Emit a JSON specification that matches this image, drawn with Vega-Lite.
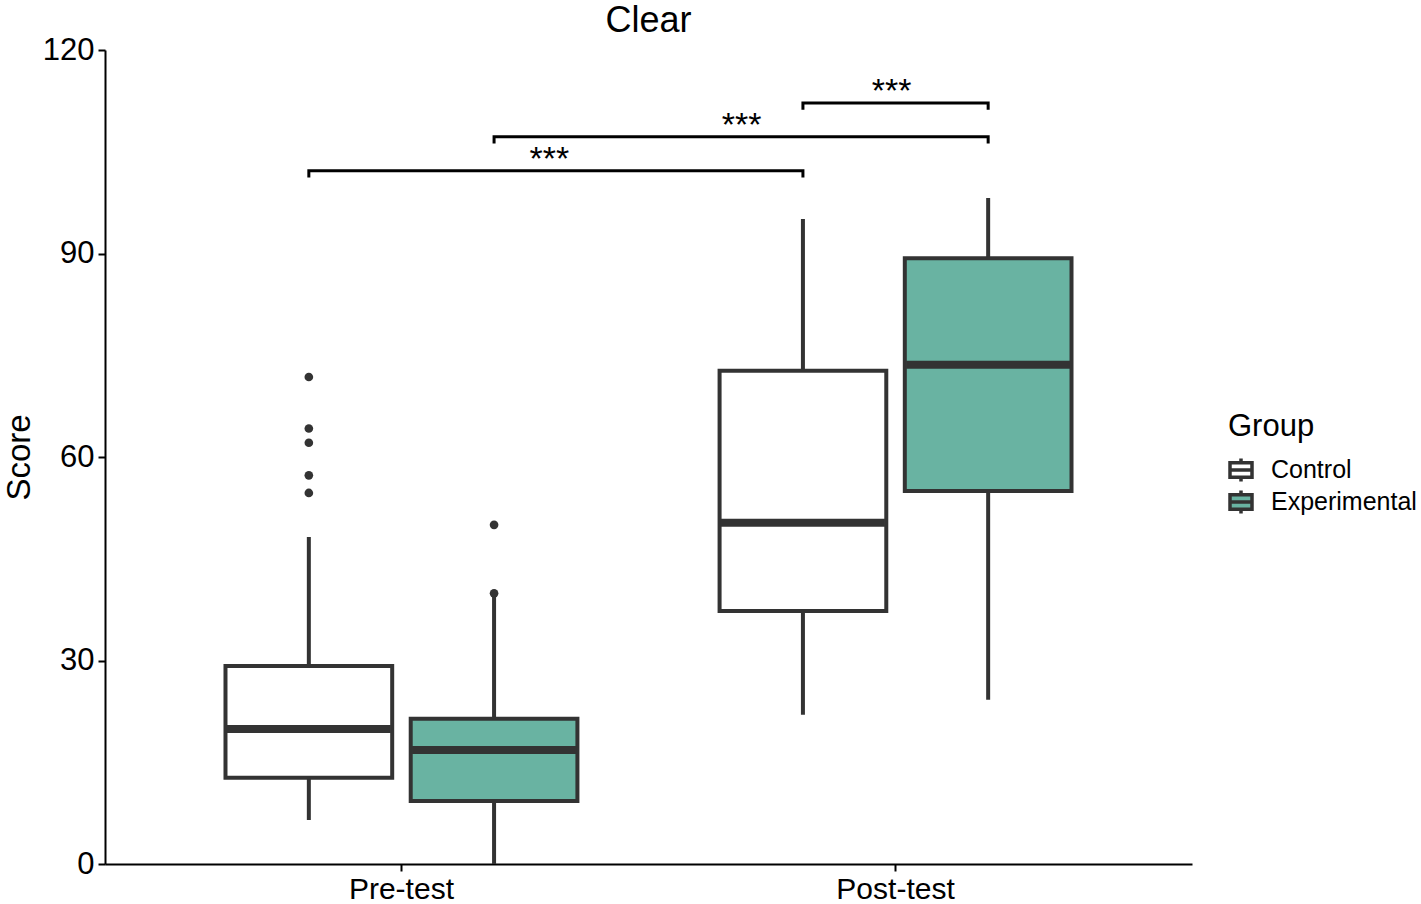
{
  "$schema": "https://vega.github.io/schema/vega-lite/v6.json",
  "width": 1087,
  "height": 814,
  "autosize": {"type": "none"},
  "padding": {"left": 105, "top": 50, "right": 229, "bottom": 40},
  "background": "white",
  "title": {"text": "Clear", "fontSize": 36, "font": "Liberation Sans", "fontWeight": "normal", "color": "#000000", "anchor": "middle", "offset": -6},
  "config": {
    "font": "Liberation Sans",
    "view": {"stroke": null},
    "axis": {"grid": false, "domainColor": "#000000", "domainWidth": 2, "tickColor": "#000000", "tickWidth": 2, "tickSize": 7, "labelColor": "#000000", "labelFont": "Liberation Sans", "titleFont": "Liberation Sans", "titleColor": "#000000", "titleFontWeight": "normal"}
  },
  "datasets": {
    "boxes": [
      {"time": "Pre-test", "group": "Control", "lower": 6.5, "q1": 12.7, "median": 19.9, "q3": 29.2, "upper": 48.2},
      {"time": "Pre-test", "group": "Experimental", "lower": 0, "q1": 9.3, "median": 16.8, "q3": 21.4, "upper": 39.9},
      {"time": "Post-test", "group": "Control", "lower": 22.0, "q1": 37.3, "median": 50.3, "q3": 72.7, "upper": 95.1},
      {"time": "Post-test", "group": "Experimental", "lower": 24.2, "q1": 55.0, "median": 73.6, "q3": 89.3, "upper": 98.2}
    ],
    "outliers": [
      {"time": "Pre-test", "group": "Control", "score": 71.8},
      {"time": "Pre-test", "group": "Control", "score": 64.2},
      {"time": "Pre-test", "group": "Control", "score": 62.1},
      {"time": "Pre-test", "group": "Control", "score": 57.3},
      {"time": "Pre-test", "group": "Control", "score": 54.7},
      {"time": "Pre-test", "group": "Experimental", "score": 50.0},
      {"time": "Pre-test", "group": "Experimental", "score": 39.9}
    ],
    "brackets": [
      {"bracket": "b1", "ord": 1, "time": "Pre-test", "group": "Control", "y": 101.2},
      {"bracket": "b1", "ord": 2, "time": "Pre-test", "group": "Control", "y": 102.2},
      {"bracket": "b1", "ord": 3, "time": "Post-test", "group": "Control", "y": 102.2},
      {"bracket": "b1", "ord": 4, "time": "Post-test", "group": "Control", "y": 101.2},
      {"bracket": "b2", "ord": 1, "time": "Pre-test", "group": "Experimental", "y": 106.2},
      {"bracket": "b2", "ord": 2, "time": "Pre-test", "group": "Experimental", "y": 107.2},
      {"bracket": "b2", "ord": 3, "time": "Post-test", "group": "Experimental", "y": 107.2},
      {"bracket": "b2", "ord": 4, "time": "Post-test", "group": "Experimental", "y": 106.2},
      {"bracket": "b3", "ord": 1, "time": "Post-test", "group": "Control", "y": 111.2},
      {"bracket": "b3", "ord": 2, "time": "Post-test", "group": "Control", "y": 112.2},
      {"bracket": "b3", "ord": 3, "time": "Post-test", "group": "Experimental", "y": 112.2},
      {"bracket": "b3", "ord": 4, "time": "Post-test", "group": "Experimental", "y": 111.2}
    ]
  },
  "encoding": {
    "x": {"field": "time", "type": "nominal", "sort": ["Pre-test", "Post-test"],
      "scale": {"domain": ["Pre-test", "Post-test"], "paddingInner": 0.2, "paddingOuter": 0.2},
      "axis": {"title": null, "labelAngle": 0, "labelFontSize": 30, "labelPadding": 3}}
  },
  "layer": [
    {
      "data": {"name": "boxes"},
      "mark": {"type": "rule", "stroke": "#333333", "strokeWidth": 4},
      "encoding": {
        "xOffset": {"field": "group", "type": "nominal", "scale": {"domain": ["Control", "Experimental"], "paddingInner": 0.1, "paddingOuter": 0.117}},
        "y": {"field": "lower", "type": "quantitative", "scale": {"domain": [0, 120], "nice": false, "zero": true},
          "axis": {"title": "Score", "titleFontSize": 33, "values": [0, 30, 60, 90, 120], "labelFontSize": 31, "labelPadding": 4, "titlePadding": 6}},
        "y2": {"field": "upper"}
      }
    },
    {
      "data": {"name": "boxes"},
      "mark": {"type": "bar", "stroke": "#333333", "strokeWidth": 4},
      "encoding": {
        "xOffset": {"field": "group", "type": "nominal"},
        "y": {"field": "q1", "type": "quantitative"},
        "y2": {"field": "q3"},
        "fill": {"field": "group", "type": "nominal",
          "scale": {"domain": ["Control", "Experimental"], "range": ["#ffffff", "#69b3a2"]},
          "legend": {"title": "Group", "orient": "none", "legendX": 1123, "legendY": 362,
            "titleFontSize": 31, "titleFont": "Liberation Sans", "titleFontWeight": "normal", "titleColor": "#000000", "titlePadding": 14,
            "labelFontSize": 25, "labelFont": "Liberation Sans", "labelColor": "#000000", "labelOffset": 17,
            "symbolType": "M-1,-0.65H1V0.65H-1Z M-1,0H1 M0,-0.65V-1.05 M0,0.65V1.05",
            "symbolSize": 484, "symbolStrokeColor": "#333333", "symbolStrokeWidth": 3.5, "rowPadding": -18}}
      }
    },
    {
      "data": {"name": "boxes"},
      "mark": {"type": "tick", "color": "#333333", "thickness": 8, "size": 164, "opacity": 1},
      "encoding": {
        "xOffset": {"field": "group", "type": "nominal"},
        "y": {"field": "median", "type": "quantitative"}
      }
    },
    {
      "data": {"name": "outliers"},
      "mark": {"type": "point", "filled": true, "color": "#333333", "size": 75, "opacity": 1},
      "encoding": {
        "xOffset": {"field": "group", "type": "nominal"},
        "y": {"field": "score", "type": "quantitative"}
      }
    },
    {
      "data": {"name": "brackets"},
      "mark": {"type": "line", "color": "#000000", "strokeWidth": 3, "strokeJoin": "miter"},
      "encoding": {
        "xOffset": {"field": "group", "type": "nominal"},
        "y": {"field": "y", "type": "quantitative"},
        "detail": {"field": "bracket"},
        "order": {"field": "ord"}
      }
    },
    {
      "data": {"values": [{"time": "Pre-test", "y": 102.2, "label": "***"}]},
      "mark": {"type": "text", "fontSize": 34, "dx": 148, "dy": -1, "baseline": "alphabetic", "color": "#000000"},
      "encoding": {"y": {"field": "y", "type": "quantitative"}, "text": {"field": "label"}}
    },
    {
      "data": {"values": [{"time": "Post-test", "y": 107.2, "label": "***"}]},
      "mark": {"type": "text", "fontSize": 34, "dx": -154, "dy": -1, "baseline": "alphabetic", "color": "#000000"},
      "encoding": {"y": {"field": "y", "type": "quantitative"}, "text": {"field": "label"}}
    },
    {
      "data": {"values": [{"time": "Post-test", "y": 112.2, "label": "***"}]},
      "mark": {"type": "text", "fontSize": 34, "dx": -4, "dy": -1, "baseline": "alphabetic", "color": "#000000"},
      "encoding": {"y": {"field": "y", "type": "quantitative"}, "text": {"field": "label"}}
    }
  ]
}
